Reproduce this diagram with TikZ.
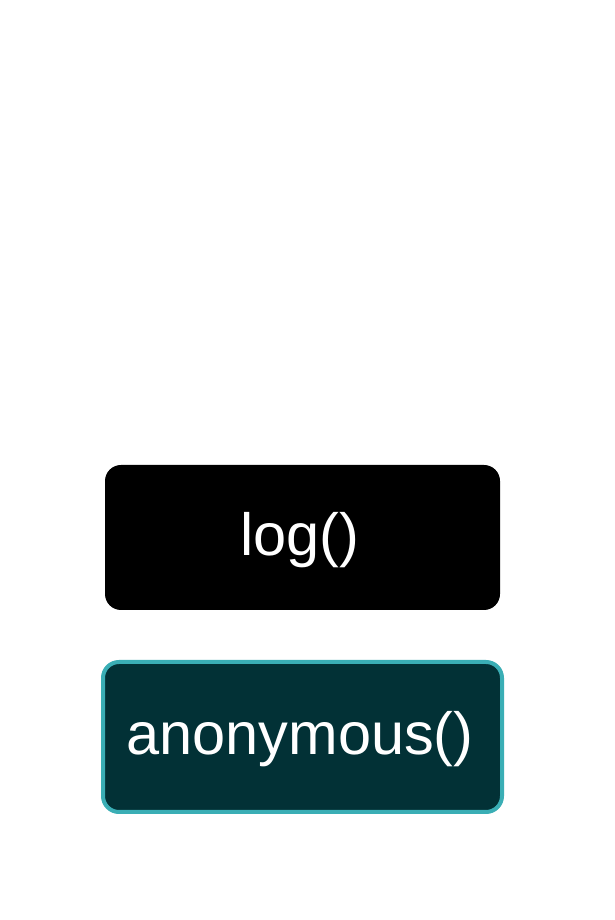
\documentclass[tikz,border=0pt]{standalone}
\usepackage{fontspec}
\setmainfont{Liberation Sans}
\definecolor{tealedge}{HTML}{3AAEB5}
\definecolor{tealfill}{HTML}{023136}
\begin{document}
\begin{tikzpicture}[x=1pt,y=1pt,
  fnbox/.style={rounded corners=16pt, inner sep=0pt, text=white,
    font=\fontsize{59.5}{62}\selectfont, text height=41pt, text depth=5pt},
  logbox/.style={fnbox, fill=black, minimum width=395pt, minimum height=145pt},
  anonbox/.style={fnbox, fill=tealfill, draw=tealedge, line width=4pt,
    minimum width=399pt, minimum height=150pt}]
\useasboundingbox[fill=white] (0,0) rectangle (615,920);
\node[logbox] (log) at (302.5,382.5) {log()\kern5pt};
\node[anonbox] (anon) at (302.5,183) {anonymous()\kern5pt};
\end{tikzpicture}
\end{document}
